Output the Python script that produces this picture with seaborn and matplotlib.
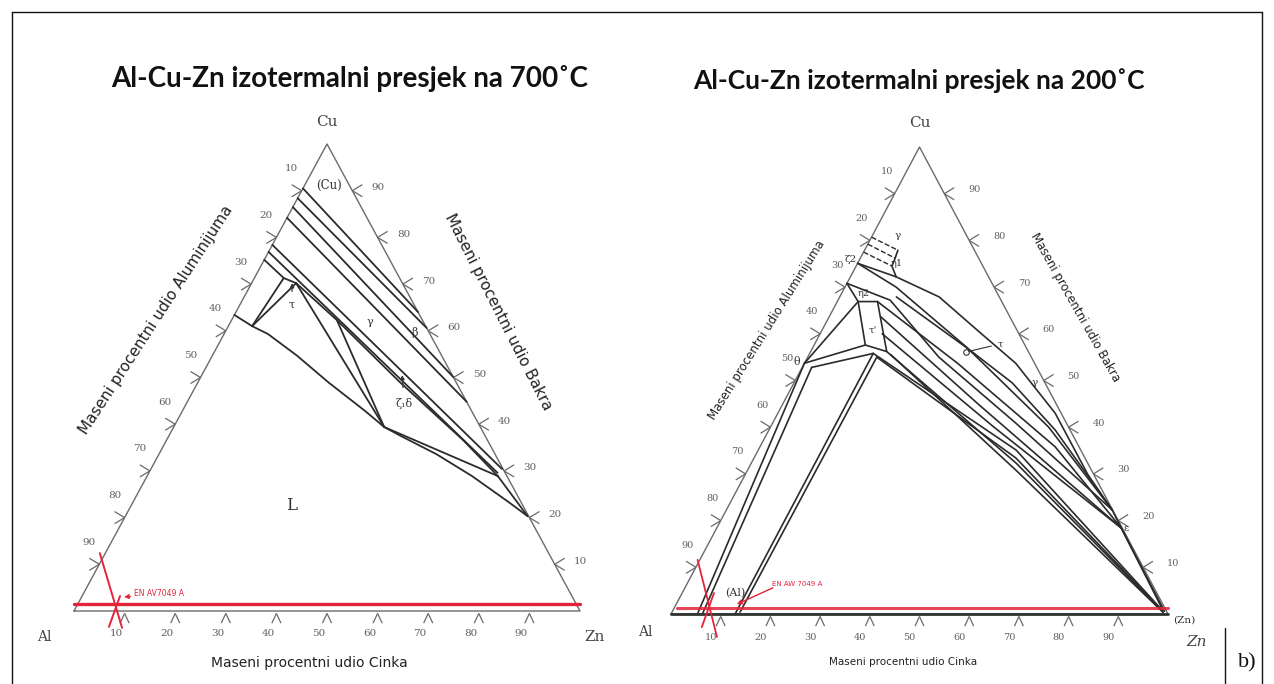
import numpy as np
import pandas as pd
import matplotlib
matplotlib.use("Agg")
import matplotlib.pyplot as plt
from matplotlib.lines import Line2D
from matplotlib.collections import LineCollection
import seaborn as sns

sns.set_theme(style="white")
plt.rcParams["font.family"] = ["DejaVu Sans"]

W, H = 1274, 684

# ---------------- text ----------------
title_700 = "Al-Cu-Zn izotermalni presjek na 700˚C"
title_200 = "Al-Cu-Zn izotermalni presjek na 200˚C"
axis_al = "Maseni procentni udio Aluminijuma"
axis_cu = "Maseni procentni udio Bakra"
axis_zn = "Maseni procentni udio Cinka"
tick_values = [10, 20, 30, 40, 50, 60, 70, 80, 90]
alloy_700 = "EN AV7049 A"
alloy_200 = "EN AW 7049 A"

# ---------------- 700 C section, points as (wt% Zn, wt% Cu) ----------------
p700_tie1 = [(0, 90.5), (36.0, 64.0)]
p700_tie2 = [(0, 88.4), (39.4, 60.6)]
p700_tie3 = [(0, 86.5), (49.9, 50.1)]
p700_tie4 = [(0, 84.2), (55.2, 44.8)]
p700_tie5 = [(0, 78.4), (69.4, 30.4)]
p700_tie6 = [(0, 76.9), (68.9, 29.6)]
p700_tie7 = [(0, 75.2), (5.8, 71.3)]
p700_tau_a = [(0, 63.4), (4.7, 61.0)]
p700_tau_b = [(4.7, 61.0), (5.8, 71.3), (8.8, 70.2)]
p700_tau_c = [(4.7, 61.0), (8.8, 70.2)]
p700_liquidus = [(4.7, 61.0), (8.7, 59.3), (16.7, 54.7), (25.9, 48.9), (36.0, 42.9),
                 (41.6, 39.4), (45.8, 37.5), (54.8, 33.6), (64.2, 28.9), (74.1, 23.4),
                 (79.5, 20.3)]
p700_gamma = [(8.8, 70.2), (20.8, 62.3), (39.9, 49.0), (58.6, 36.6), (69.3, 28.9)]
p700_v1 = [(8.8, 70.2), (41.6, 39.4)]
p700_v2 = [(20.8, 62.3), (41.6, 39.4)]
p700_v3 = [(41.6, 39.4), (69.3, 28.9)]
p700_edge = [(69.3, 28.9), (79.5, 20.3)]

red700_h = [(-0.75, 1.5), (99.25, 1.5)]
red700_a = [(-1.1, 12.4), (11.3, -3.6)]
red700_b = [(8.6, -3.4), (7.5, 3.2)]

# ---------------- 200 C section ----------------
p200_al1 = [(5.3, 0.2), (0, 53.7)]
p200_al2 = [(6.3, 0.2), (1.9, 52.8)]
p200_big1 = [(12.9, 0.0), (12.8, 55.8)]
p200_big2 = [(13.7, 0.4), (13.9, 55.0)]
p200_taup = [(4.2, 66.9), (8.1, 66.9), (15.3, 56.2), (10.3, 57.6), (4.2, 66.9)]
p200_th1 = [(0, 53.7), (10.3, 57.6)]
p200_th2 = [(1.9, 52.8), (12.8, 55.8)]
p200_th3 = [(0, 53.7), (4.2, 66.9)]
p200_zn1 = [(12.8, 55.8), (51.9, 35.1), (98.3, 0.9)]
p200_zn2 = [(13.9, 55.0), (52.7, 33.4), (98.5, 0.7)]
p200_zn3 = [(15.3, 56.2), (53.3, 32.3), (98.7, 0.5)]
p200_zn4 = [(16.5, 55.5), (54.0, 30.8), (98.9, 0.3)]
p200_lens_u = [(9.2, 72.2), (20.0, 67.9), (31.2, 60.8), (42.5, 53.7), (55.8, 43.0),
               (69.0, 29.8), (77.6, 22.3)]
p200_lens_l = [(11.4, 67.9), (31.9, 56.5), (43.9, 49.5), (57.6, 39.4), (77.6, 22.3)]
p200_band1 = [(0, 75.1), (10.3, 70.0), (30.8, 57.2), (56.0, 40.0), (77.6, 22.3)]
p200_band2 = [(0, 70.8), (10.5, 67.2), (26.4, 55.0), (48.9, 40.9), (77.6, 22.3)]
p200_band3 = [(8.1, 66.9), (30.8, 53.7), (59.4, 35.8), (81.4, 18.4)]
p200_band4 = [(10.3, 63.7), (39.1, 45.1), (81.4, 18.4)]
p200_band5 = [(12.5, 60.0), (45.0, 40.0), (81.4, 18.4)]
p200_eps1 = [(77.6, 22.3), (98.0, 1.4)]
p200_eps2 = [(81.4, 18.4), (99.0, 0.6)]
p200_eta2 = [(0, 70.8), (4.2, 66.9)]
p200_zeta2 = [(0, 75.1), (9.2, 72.2)]
p200_eta1 = [(6.7, 77.9), (7.0, 76.2), (7.2, 74.5), (9.2, 72.2)]
p200_dash1 = [(0, 80.7), (6.7, 77.9)]
p200_dash2 = [(0, 79.2), (7.0, 76.2)]
p200_dash3 = [(0, 77.5), (7.2, 74.5)]
p200_tau_point = (31.3, 56.1)

red200_h = [(0.55, 1.3), (99.35, 1.3)]
red200_a = [(-0.45, 11.6), (11.7, -4.9)]
red200_b = [(7.6, -2.8), (6.4, 4.5)]
alloy200_arrow = [(17.7, 5.6), (12.2, 2.1)]

triangle = [(0, 0), (100, 0), (0, 100), (0, 0)]

lines_700 = {"tie1": p700_tie1, "tie2": p700_tie2, "tie3": p700_tie3, "tie4": p700_tie4,
             "tie5": p700_tie5, "tie6": p700_tie6, "tie7": p700_tie7, "tau_a": p700_tau_a,
             "tau_b": p700_tau_b, "tau_c": p700_tau_c, "liq": p700_liquidus,
             "gamma": p700_gamma, "v1": p700_v1, "v2": p700_v2, "v3": p700_v3,
             "edge": p700_edge}
lines_200 = {"al1": p200_al1, "al2": p200_al2, "big1": p200_big1, "big2": p200_big2,
             "taup": p200_taup, "th1": p200_th1, "th2": p200_th2, "th3": p200_th3,
             "zn1": p200_zn1, "zn2": p200_zn2, "zn3": p200_zn3, "zn4": p200_zn4,
             "lu": p200_lens_u, "ll": p200_lens_l, "b1": p200_band1, "b2": p200_band2,
             "b3": p200_band3, "b4": p200_band4, "b5": p200_band5, "e1": p200_eps1,
             "e2": p200_eps2, "eta2": p200_eta2, "z2": p200_zeta2, "eta1": p200_eta1}
dashed_200 = {"d1": p200_dash1, "d2": p200_dash2, "d3": p200_dash3}


def cart(zn, cu):
    return zn + cu / 2.0, cu


def to_frame(lines):
    rows = []
    for name, pts in lines.items():
        for i, (zn, cu) in enumerate(pts):
            x, y = cart(zn, cu)
            rows.append({"seg": name, "order": i, "x": x, "y": y})
    return pd.DataFrame(rows)


def draw(ax, lines, **kw):
    sns.lineplot(data=to_frame(lines), x="x", y="y", units="seg", estimator=None,
                 sort=False, ax=ax, legend=False, clip_on=False, **kw)


fig = plt.figure(figsize=(W / 100, H / 100), dpi=100)


def pf(x, y):
    return x / W, 1 - y / H


def make_ax(al_x, zn_x, base_y, apex_y):
    ax = fig.add_axes([al_x / W, 1 - base_y / H, (zn_x - al_x) / W, (base_y - apex_y) / H])
    ax.patch.set_alpha(0)
    return ax


LINE = "#2b2b2b"
EDGE = "#6a6a6a"
RED = "#e3243b"
TICKC = "#606060"


def ternary_frame(ax, lab_off, tick_size):
    draw(ax, {"tri": triangle}, color=EDGE, lw=1.0)
    segs = []
    sx, sy = tick_size
    for v in tick_values:
        segs.append([(v - sx, -2.0 * sy), (v, -0.4 * sy)])
        segs.append([(v, -0.4 * sy), (v + sx, -2.0 * sy)])
        x0, y0 = cart(0, 100 - v)
        segs.append([(x0 - 2.2 * sx, y0 + sy), (x0, y0)])
        segs.append([(x0, y0), (x0 - 2.2 * sx, y0 - sy)])
        x1, y1 = cart(100 - v, v)
        segs.append([(x1 + 2.2 * sx, y1 + sy), (x1, y1)])
        segs.append([(x1, y1), (x1 + 2.2 * sx, y1 - sy)])
    ax.add_collection(LineCollection(segs, colors=EDGE, linewidths=0.9, clip_on=False))
    fs = lab_off["fs"]
    for v in tick_values:
        for xy, key in [(cart(v, 0), "bottom"), (cart(0, 100 - v), "left"),
                        (cart(100 - v, v), "right")]:
            ax.annotate(str(v), xy=xy, xytext=lab_off[key], textcoords="offset pixels",
                        ha="center", va="center", fontsize=fs, color=TICKC,
                        family="DejaVu Serif", annotation_clip=False)


def label(ax, text, zn, cu, dx=0, dy=0, fs=8, **kw):
    ax.annotate(text, xy=cart(zn, cu), xytext=(dx, dy), textcoords="offset pixels",
                ha="center", va="center", fontsize=fs, annotation_clip=False,
                family=kw.pop("family", "DejaVu Serif"), color=kw.pop("color", "#333333"), **kw)


# ================= left panel: 700 C =================
ax1 = make_ax(74, 580, 611, 144)
ternary_frame(ax1, {"bottom": (-8, -22), "left": (-10, 22), "right": (26, 3), "fs": 7.5}, (0.9, 1.3))
draw(ax1, lines_700, color=LINE, lw=1.3)
draw(ax1, {"h": red700_h}, color=RED, lw=2.4)
draw(ax1, {"a": red700_a, "b": red700_b}, color=RED, lw=1.4)
label(ax1, "(Cu)", 4.8, 91.2, fs=8.5)
label(ax1, "γ", 27.6, 61.9, fs=8)
label(ax1, "β", 37.5, 59.7, fs=8)
label(ax1, "L", 31.8, 22.5, fs=12)
ax1.annotate("τ", xy=cart(8.0, 70.2), xytext=(0, -22), textcoords="offset pixels",
             ha="center", va="center", fontsize=8, family="DejaVu Serif", color="#333",
             arrowprops=dict(arrowstyle="-|>", lw=0.9, color="#333", mutation_scale=6,
                             shrinkA=4, shrinkB=0), annotation_clip=False)
ax1.annotate("ζ₁δ", xy=cart(39.6, 50.5), xytext=(2, -28), textcoords="offset pixels",
             ha="center", va="center", fontsize=8, family="DejaVu Serif", color="#333",
             arrowprops=dict(arrowstyle="-|>", lw=0.9, color="#333", mutation_scale=6,
                             shrinkA=5, shrinkB=0), annotation_clip=False)
ax1.annotate(alloy_700, xy=cart(8.4, 3.0), xytext=(10, 3), textcoords="offset pixels",
             ha="left", va="center", fontsize=5.5, color=RED, annotation_clip=False,
             arrowprops=dict(arrowstyle="-|>", lw=0.8, color=RED, mutation_scale=7,
                             shrinkA=0, shrinkB=0))
label(ax1, "Cu", 0, 100, 0, 22, fs=11, color="#444")
label(ax1, "Al", 0, 0, -30, -26, fs=10, color="#444")
label(ax1, "Zn", 100, 0, 15, -26, fs=11, color="#444")
ax1.set_xlim(0, 100)
ax1.set_ylim(0, 100)
ax1.axis("off")

# ================= right panel: 200 C =================
ax2 = make_ax(671, 1168, 614, 147)
ternary_frame(ax2, {"bottom": (-10, -24), "left": (-8, 22), "right": (30, 4), "fs": 7}, (0.9, 1.3))
draw(ax2, {"base": [(0, 0), (100, 0)]}, color="#333", lw=2.0)
draw(ax2, lines_200, color=LINE, lw=1.2)
draw(ax2, dashed_200, color=LINE, lw=1.0, linestyle="--", dashes=(3, 2))
draw(ax2, {"h": red200_h}, color=RED, lw=2.2, alpha=0.85)
draw(ax2, {"a": red200_a, "b": red200_b}, color=RED, lw=1.3)
label(ax2, "θ", 0, 53.7, -8, 1, fs=8)
label(ax2, "τ'", 10.2, 60.8, fs=7.5)
label(ax2, "η2", 4.5, 68.7, fs=7)
label(ax2, "ζ2", 0, 75.4, -8, 2, fs=7.5)
label(ax2, "γ", 4.9, 80.7, 2, 2, fs=7.5)
label(ax2, "η1", 7.4, 75.4, 2, -2, fs=7)
label(ax2, "γ", 48.5, 49.5, fs=7.5)
label(ax2, "ε", 81.4, 18.4, 5, 0, fs=7.5)
label(ax2, "(Al)", 10.8, 4.4, fs=8)
label(ax2, "(Zn)", 100, 0, 16, -6, fs=7.5)
ax2.annotate("τ", xy=cart(*p200_tau_point), xytext=(34, 8), textcoords="offset pixels",
             ha="center", va="center", fontsize=7, family="DejaVu Serif", color="#333",
             arrowprops=dict(arrowstyle="-", lw=0.8, color="#333"), annotation_clip=False)
ax2.plot(*cart(*p200_tau_point), marker="o", ms=4, mfc="white", mec="#333", mew=0.8,
         clip_on=False)
ax2.annotate("", xy=cart(*alloy200_arrow[1]), xytext=cart(*alloy200_arrow[0]),
             arrowprops=dict(arrowstyle="-|>", lw=1.0, color=RED, mutation_scale=7,
                             shrinkA=0, shrinkB=0), annotation_clip=False)
ax2.annotate(alloy_200, xy=cart(*alloy200_arrow[0]), xytext=(24, 4), textcoords="offset pixels",
             ha="center", va="center", fontsize=5, color=RED, annotation_clip=False)
label(ax2, "Cu", 0, 100, 0, 24, fs=11, color="#444")
label(ax2, "Al", 0, 0, -26, -18, fs=10, color="#444")
label(ax2, "Zn", 100, 0, 29, -28, fs=11, color="#444", style="italic", family="DejaVu Serif")
ax2.set_xlim(0, 100)
ax2.set_ylim(0, 100)
ax2.axis("off")

# ================= titles and axis names =================
fig.text(*pf(350, 78), title_700, ha="center", va="center", fontsize=20,
         fontweight="bold", family=["Lato", "DejaVu Sans"], color="#111")
fig.text(*pf(919, 81), title_200, ha="center", va="center", fontsize=19,
         fontweight="bold", family=["Lato", "DejaVu Sans"], color="#111")

fig.text(*pf(156, 320), axis_al, rotation=57, rotation_mode="anchor", ha="center",
         va="center", fontsize=11, color="#222")
fig.text(*pf(498, 312), axis_cu, rotation=-63, rotation_mode="anchor", ha="center",
         va="center", fontsize=11, color="#222")
fig.text(*pf(309, 663), axis_zn, ha="center", va="center", fontsize=10, color="#222")

fig.text(*pf(767, 330), axis_al, rotation=58, rotation_mode="anchor", ha="center",
         va="center", fontsize=8.5, color="#222")
fig.text(*pf(1075, 307), axis_cu, rotation=-60.5, rotation_mode="anchor", ha="center",
         va="center", fontsize=8.5, color="#222")
fig.text(*pf(903, 662), axis_zn, ha="center", va="center", fontsize=7.5, color="#222")

fig.text(*pf(1247, 663), "b)", ha="center", va="center", fontsize=16,
         family=["Liberation Serif", "DejaVu Serif"], color="#111")

for (x0, y0, x1, y1) in [(12, 12, 1262, 12), (12, 12, 12, 684), (1262, 12, 1262, 684),
                         (1225, 628, 1225, 684)]:
    fig.add_artist(Line2D([x0 / W, x1 / W], [1 - y0 / H, 1 - y1 / H],
                          transform=fig.transFigure, color="#111", lw=1.0))

fig.savefig("out.png", dpi=100, facecolor="white")
